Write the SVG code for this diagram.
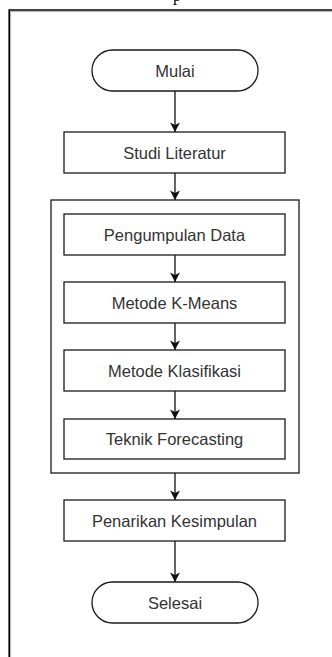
<svg xmlns="http://www.w3.org/2000/svg" width="332" height="657" viewBox="0 0 332 657">
<style>
.box{fill:#fff;stroke:#1a1a1a;stroke-width:1.3}
.lbl{font-family:"Liberation Sans",Arial,sans-serif;font-size:16.5px;fill:#333;text-anchor:middle}
.conn{stroke:#111;stroke-width:1.3;fill:none}
.frame{stroke:#000;stroke-width:1.6;fill:none}
</style>
<defs>
<marker id="ah" markerWidth="12" markerHeight="12" refX="10" refY="6" orient="auto" markerUnits="userSpaceOnUse">
<path d="M0.5,1 L10,6 L0.5,11 L3,6 Z" fill="#111"/>
</marker>
</defs>
<rect width="332" height="657" fill="#fff"/>
<text x="177" y="0.5" font-family="Liberation Serif,serif" font-size="16" fill="#000" text-anchor="middle">p</text>
<path class="frame" d="M9.2,657 V10 H332"/>
<path d="M10.6,657 V11.4 H332" stroke="#999" stroke-width="0.8" fill="none"/>
<g id="container"><rect class="box" x="51" y="200" width="248" height="273"/></g>
<g id="mulai"><rect class="box" x="92" y="50" width="166" height="41" rx="20.5"/><text class="lbl" x="175" y="76.5">Mulai</text></g>
<g id="studi"><rect class="box" x="64" y="132" width="221" height="41"/><text class="lbl" x="174.5" y="158.5">Studi Literatur</text></g>
<g id="pengumpulan"><rect class="box" x="64" y="214" width="221" height="41"/><text class="lbl" x="174.5" y="240.5">Pengumpulan Data</text></g>
<g id="kmeans"><rect class="box" x="64" y="282" width="221" height="41"/><text class="lbl" x="174.5" y="308.5">Metode K-Means</text></g>
<g id="klasifikasi"><rect class="box" x="64" y="350" width="221" height="41"/><text class="lbl" x="174.5" y="376.5">Metode Klasifikasi</text></g>
<g id="forecasting"><rect class="box" x="64" y="419" width="221" height="40"/><text class="lbl" x="174.5" y="445">Teknik Forecasting</text></g>
<g id="penarikan"><rect class="box" x="64" y="500" width="221" height="41"/><text class="lbl" x="174.5" y="526.5">Penarikan Kesimpulan</text></g>
<g id="selesai"><rect class="box" x="92" y="582" width="166" height="41" rx="20.5"/><text class="lbl" x="175" y="608.5">Selesai</text></g>
<g id="connectors">
<path class="conn" marker-end="url(#ah)" d="M175,91 V132"/>
<path class="conn" marker-end="url(#ah)" d="M175,173 V200"/>
<path class="conn" marker-end="url(#ah)" d="M175,255 V282"/>
<path class="conn" marker-end="url(#ah)" d="M175,323 V350"/>
<path class="conn" marker-end="url(#ah)" d="M175,391 V419"/>
<path class="conn" marker-end="url(#ah)" d="M175,473 V500"/>
<path class="conn" marker-end="url(#ah)" d="M175,541 V582"/>
</g>
</svg>
